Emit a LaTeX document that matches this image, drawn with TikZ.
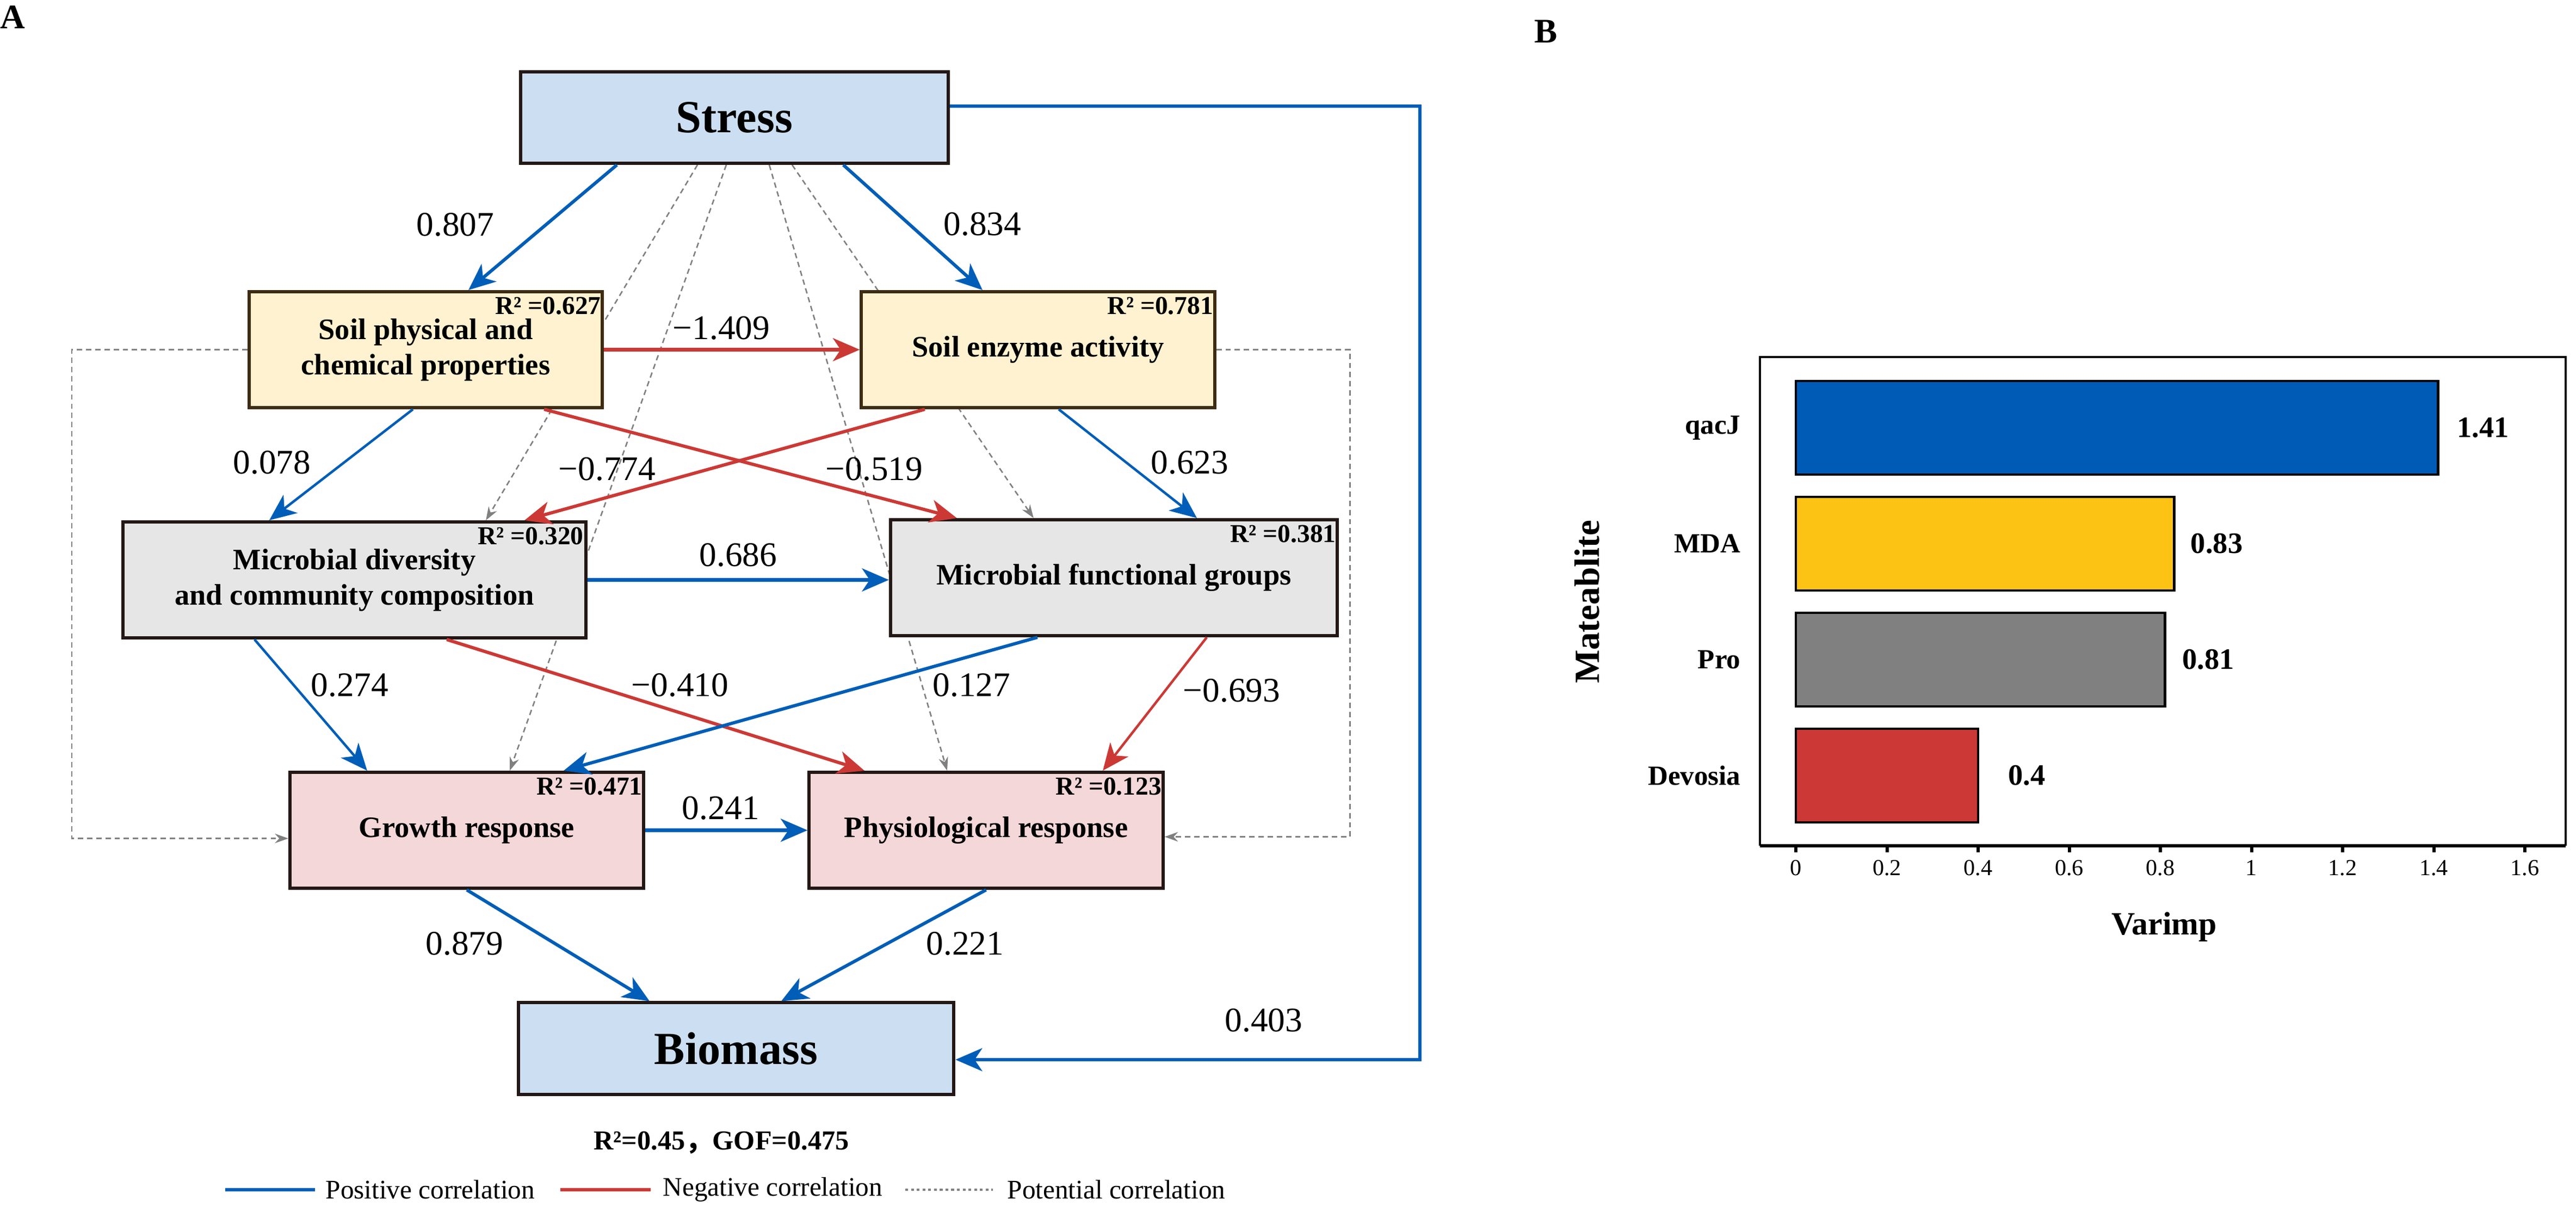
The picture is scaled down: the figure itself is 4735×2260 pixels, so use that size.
\documentclass[tikz,border=0pt]{standalone}
\usepackage{fontspec}
\setmainfont{Liberation Serif}
\newfontfamily\cjk{Noto Sans CJK SC}
\usetikzlibrary{arrows.meta,backgrounds}
\definecolor{stressfill}{RGB}{204,222,241}
\definecolor{soilfill}{RGB}{255,242,208}
\definecolor{microfill}{RGB}{230,230,230}
\definecolor{respfill}{RGB}{244,215,216}
\definecolor{boxline}{RGB}{35,24,21}
\definecolor{soilline}{RGB}{62,44,18}
\definecolor{cblue}{RGB}{0,94,184}
\definecolor{cred}{RGB}{204,57,53}
\definecolor{cgray}{RGB}{128,128,128}
\definecolor{barblue}{RGB}{0,91,183}
\definecolor{baryellow}{RGB}{252,195,20}
\definecolor{bargray}{RGB}{128,128,128}
\definecolor{barred}{RGB}{204,56,53}
\tikzset{
    box/.style={draw=boxline, line width=1.7pt, inner sep=0pt, align=center, font=\fontsize{15.5}{18.5}\selectfont\bfseries},
    mainbox/.style={box, fill=stressfill, minimum height=1.68cm, font=\fontsize{24}{28}\selectfont\bfseries},
    soilbox/.style={box, fill=soilfill, draw=soilline, minimum width=6.49cm, minimum height=2.13cm},
    microbox/.style={box, fill=microfill, minimum height=2.13cm},
    respbox/.style={box, fill=respfill, minimum width=6.5cm, minimum height=2.13cm},
    rsq/.style={anchor=north east, inner sep=0pt, font=\fontsize{13.5}{15}\selectfont\bfseries},
    coef/.style={inner sep=0pt, font=\fontsize{18}{20}\selectfont},
    posarrow/.style={draw=cblue, line width=1.7pt, -{Stealth[length=14pt,width=12pt,inset=4pt]}},
    negarrow/.style={posarrow, draw=cred},
    thinline/.style={line width=1.3pt},
    thickline/.style={line width=1.9pt},
    potarrow/.style={draw=cgray, line width=0.75pt, dash pattern=on 2.8pt off 2pt, -{Stealth[length=7pt,width=5pt]}},
    legtext/.style={anchor=west, inner sep=0pt, font=\fontsize{14}{16}\selectfont},
    panel/.style={anchor=west, inner sep=0pt, font=\fontsize{18}{20}\selectfont\bfseries},
}
\begin{document}
\begin{tikzpicture}[x=0.01cm, y=-0.01cm]
    \useasboundingbox (0,0) rectangle (4735,2260);
    % panel A: path model
    \node[panel] (pA) at (0,32) {A};
    \node[mainbox, minimum width=7.86cm] (stress) at (1350,216) {Stress};
    \node[soilbox] (soilpc) at (782.5,642.5) {Soil physical and\\chemical properties};
    \node[soilbox] (enzyme) at (1908,642.5) {Soil enzyme activity};
    \node[microbox, minimum width=8.51cm] (microdiv) at (651.5,1065.5) {Microbial diversity\\and community composition};
    \node[microbox, minimum width=8.21cm] (microfun) at (2047.5,1061.5) {Microbial functional groups};
    \node[respbox] (growth) at (858,1525.5) {Growth response};
    \node[respbox] (physio) at (1812.5,1525.5) {Physiological response};
    \node[mainbox, minimum width=8.0cm] (biomass) at (1353,1926.5) {Biomass};

    \node[rsq] (rsoil) at ([xshift=-0.05cm,yshift=-0.12cm]soilpc.north east) {R² =0.627};
    \node[rsq] (renz) at ([xshift=-0.05cm,yshift=-0.12cm]enzyme.north east) {R² =0.781};
    \node[rsq] (rdiv) at ([xshift=-0.07cm,yshift=-0.12cm]microdiv.north east) {R² =0.320};
    \node[rsq] (rfun) at ([xshift=-0.05cm,yshift=-0.12cm]microfun.north east) {R² =0.381};
    \node[rsq] (rgro) at ([xshift=-0.05cm,yshift=-0.12cm]growth.north east) {R² =0.471};
    \node[rsq] (rphy) at ([xshift=-0.05cm,yshift=-0.12cm]physio.north east) {R² =0.123};

    \begin{scope}[on background layer]
        \draw[potarrow] ([xshift=-0.68cm]stress.south) -- ([xshift=2.415cm]microdiv.north);
        \draw[potarrow] ([xshift=-0.15cm]stress.south) -- ([xshift=0.79cm]growth.north);
        \draw[potarrow] ([xshift=0.64cm]stress.south) -- ([xshift=-0.715cm]physio.north);
        \draw[potarrow] ([xshift=1.06cm]stress.south) -- ([xshift=-1.475cm]microfun.north);
        \draw[potarrow] (soilpc.west) -- ++(-323,0) |- ([yshift=-1.5mm]growth.west);
        \draw[potarrow] (enzyme.east) -- ++(246,0) |- ([yshift=-1.2mm]physio.east);
    \end{scope}

    \draw[posarrow] ([xshift=-2.16cm]stress.south) -- ([xshift=0.785cm]soilpc.north);
    \draw[posarrow] ([xshift=2.0cm]stress.south) -- ([xshift=-1.02cm]enzyme.north);
    \draw[negarrow, thickline] (soilpc.east) -- (enzyme.west);
    \draw[posarrow, thinline] ([xshift=-0.235cm]soilpc.south) -- ([xshift=-1.565cm]microdiv.north);
    \draw[negarrow] ([xshift=2.175cm]soilpc.south) -- ([xshift=-2.885cm]microfun.north);
    \draw[negarrow] ([xshift=-2.08cm]enzyme.south) -- ([xshift=3.125cm]microdiv.north);
    \draw[posarrow, thinline] ([xshift=0.38cm]enzyme.south) -- ([xshift=1.525cm]microfun.north);
    \draw[posarrow, thickline] (microdiv.east) -- (microdiv.east -| microfun.west);
    \draw[posarrow, thinline] ([xshift=-1.835cm]microdiv.south) -- ([xshift=-1.83cm]growth.north);
    \draw[negarrow] ([xshift=1.695cm]microdiv.south) -- ([xshift=-2.235cm]physio.north);
    \draw[posarrow] ([xshift=-1.405cm]microfun.south) -- ([xshift=1.78cm]growth.north);
    \draw[negarrow, thinline] ([xshift=1.705cm]microfun.south) -- ([xshift=2.145cm]physio.north);
    \draw[posarrow, thickline] (growth.east) -- (physio.west);
    \draw[posarrow] (growth.south) -- ([xshift=-1.59cm]biomass.north);
    \draw[posarrow] (physio.south) -- ([xshift=0.83cm]biomass.north);
    \draw[posarrow] ([yshift=2.1mm]stress.east) -- ++(864,0) |- ([yshift=-2.05mm]biomass.east);

    \node[coef] (c1) at (837,413) {0.807};
    \node[coef] (c2) at (1806,412) {0.834};
    \node[coef] (c3) at (1326,603) {−1.409};
    \node[coef] (c4) at (500,850) {0.078};
    \node[coef] (c5) at (1116,862) {−0.774};
    \node[coef] (c6) at (1607,862) {−0.519};
    \node[coef] (c7) at (2187,850) {0.623};
    \node[coef] (c8) at (1357,1020) {0.686};
    \node[coef] (c9) at (643,1259) {0.274};
    \node[coef] (c10) at (1250,1259) {−0.410};
    \node[coef] (c11) at (1786,1259) {0.127};
    \node[coef] (c12) at (2264,1269) {−0.693};
    \node[coef] (c13) at (1325,1485) {0.241};
    \node[coef] (c14) at (854,1734) {0.879};
    \node[coef] (c15) at (1774,1734) {0.221};
    \node[coef] (c16) at (2323,1875) {0.403};

    \node[font=\fontsize{14.3}{16}\selectfont\bfseries] (fit) at (1326,2100) {R²=0.45{\cjk ，}GOF=0.475};
    \draw[cblue, line width=1.7pt] (414,2186) -- (579,2186);
    \node[legtext] (lpos) at (598,2186) {Positive correlation};
    \draw[cred, line width=1.7pt] (1030,2186) -- (1196,2186);
    \node[legtext] (lneg) at (1218,2186) {Negative correlation};
    \draw[cgray, line width=0.9pt, dash pattern=on 1.5pt off 1.5pt] (1664,2186) -- (1825,2186);
    \node[legtext] (lpot) at (1851,2186) {Potential correlation};

    % panel B: variable importance
    \node[panel] (pB) at (2820,58) {B};
    \draw[line width=1.3pt] (3235,1554) |- (4716,656) -- (4716,1554);
    \draw[line width=1.9pt] (3235,1554) -- (4716,1554);
    \foreach \i/\lab in {0/0,1/0.2,2/0.4,3/0.6,4/0.8,5/1,6/1.2,7/1.4,8/1.6} {
        \draw[line width=1.7pt] (3301+167.5*\i,1554) -- ++(0,12);
        \node[font=\fontsize{12}{14}\selectfont] (tick\i) at (3301+167.5*\i,1595) {\lab};
    }
    \foreach \v/\name/\col/\yc/\gap [count=\k] in {1.41/qacJ/barblue/786/34, 0.83/MDA/baryellow/999/30, 0.81/Pro/bargray/1212/31, 0.4/Devosia/barred/1425/55} {
        \draw[fill=\col, line width=1.4pt] (3301,\yc-86) rectangle (3301+837.5*\v,\yc+86);
        \node[anchor=east, inner sep=0pt, font=\fontsize{14.5}{16}\selectfont\bfseries] (cat\k) at (3200,\yc) {\name};
        \node[anchor=west, inner sep=0pt, font=\fontsize{15.5}{18}\selectfont\bfseries] (val\k) at (3301+837.5*\v+\gap,\yc) {\v};
    }
    \node[rotate=90, font=\fontsize{18.5}{20}\selectfont\bfseries] (ylab) at (2917,1106) {Mateablite};
    \node[font=\fontsize{17}{20}\selectfont\bfseries] (xlab) at (3978,1703) {Varimp};
\end{tikzpicture}
\end{document}
